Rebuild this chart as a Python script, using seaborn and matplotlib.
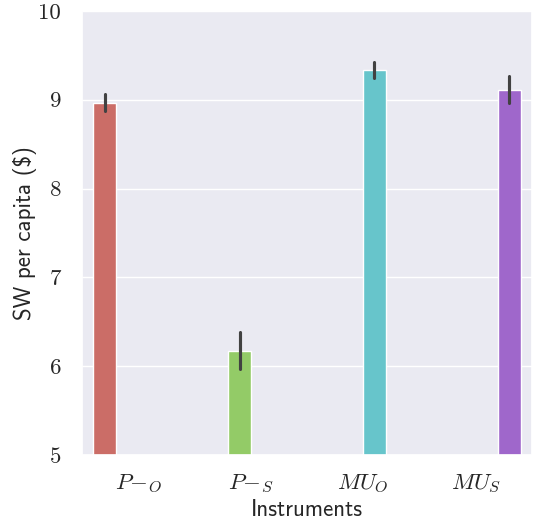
import matplotlib
matplotlib.use("Agg")
import matplotlib.pyplot as plt
import pandas as pd
import seaborn as sns

# values
instruments = ["$P{-}_O$", "$P{-}_S$", "$MU_O$", "$MU_S$"]
sw_mean = [8.965, 6.17, 9.33, 9.11]
sw_low = [8.87, 5.97, 9.24, 8.96]
sw_high = [9.07, 6.38, 9.43, 9.27]

rows = []
for name, lo, m, hi in zip(instruments, sw_low, sw_mean, sw_high):
    for v in (lo, m, hi):
        rows.append({"Instruments": name, "sw": v})
df = pd.DataFrame(rows)

sns.set_theme(style="darkgrid")
plt.rcParams["mathtext.fontset"] = "cm"
plt.rcParams["axes.unicode_minus"] = False

fig = plt.figure(figsize=(5.33, 5.2), dpi=100)
ax = fig.add_subplot(1, 1, 1)
fig.subplots_adjust(left=0.154, right=0.998, top=0.979, bottom=0.125)

sns.barplot(data=df, x="Instruments", y="sw", hue="Instruments",
            palette="hls", dodge=True, legend=False,
            estimator="mean", errorbar=lambda v: (v.min(), v.max()), ax=ax)

ax.set_ylim(5, 10)
ax.set_yticks([5, 6, 7, 8, 9, 10])
ax.set_yticklabels(["5", "6", "7", "8", "9", "10"], fontfamily="cmr10", fontsize=16.5)
ax.tick_params(axis="x", labelsize=16.5, pad=6)
ax.tick_params(axis="y", pad=9)
ax.set_xlabel("Instruments", fontfamily="cmss10", fontsize=16.5, labelpad=3)
ax.set_ylabel("SW per capita (\\$)", fontfamily="cmss10", fontsize=16.5, labelpad=1)

fig.savefig("out.png", dpi=100)
